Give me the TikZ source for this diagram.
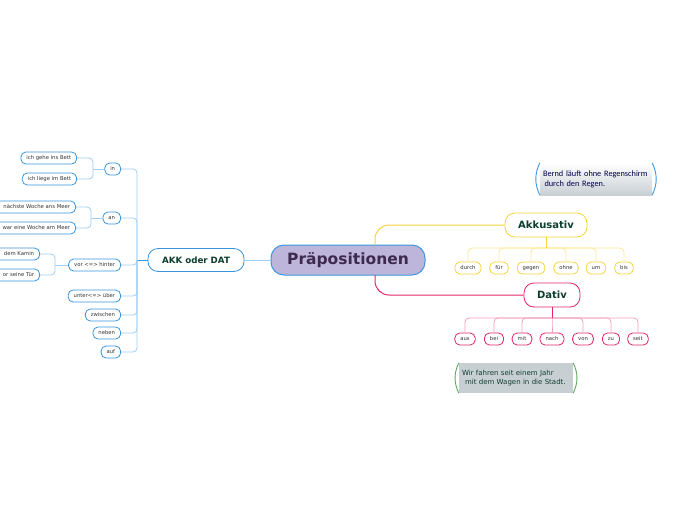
\documentclass[tikz,border=0pt]{standalone}
\usepackage{fontspec}
\setmainfont{DejaVu Sans}
\newfontfamily\notefont{Carlito}
\usetikzlibrary{positioning,calc}
\definecolor{mmblue}{RGB}{58,150,222}
\definecolor{mmbluelight}{RGB}{160,205,240}
\definecolor{mmyellow}{RGB}{247,212,60}
\definecolor{mmyellowlight}{RGB}{252,232,150}
\definecolor{mmpink}{RGB}{226,40,100}
\definecolor{mmpinklight}{RGB}{242,160,190}
\definecolor{mmlilac}{RGB}{190,182,218}
\definecolor{mmplum}{RGB}{62,42,78}
\definecolor{mmgreen}{RGB}{12,62,44}
\definecolor{mmgrey}{RGB}{200,207,211}
\definecolor{mmnotegreen}{RGB}{90,170,90}
\tikzset{
  box/.style={draw, fill=white, line width=.8pt, inner sep=0pt},
  leaf/.style={box, rounded corners=5pt, minimum height=12pt, inner xsep=5.5pt,
    text height=3.9pt, text depth=1.1pt,
    text=black!80, font=\fontsize{5.3}{6}\selectfont},
  cutoff/.style={text width=#1, align=right},
  blueleaf/.style={leaf, draw=mmblue},
  akkleaf/.style={leaf, draw=mmyellow},
  datleaf/.style={leaf, draw=mmpink},
  blueline/.style={draw=mmbluelight, line width=.8pt, rounded corners=4pt},
  yelline/.style={draw=mmyellowlight, line width=.8pt, rounded corners=4pt},
  pinkline/.style={draw=mmpinklight, line width=.8pt, rounded corners=4pt},
  note/.style={inner sep=0pt, align=left, minimum height=30pt},
  notearc/.style={line width=.9pt},
}
\begin{document}
\begin{tikzpicture}[x=1pt,y=-1pt]
  \useasboundingbox (0,0) rectangle (696,520);
  \clip (0,0) rectangle (696,520);

  % root and main branches
  \node[box, draw=mmblue, fill=mmlilac, rounded corners=13pt, line width=1pt,
    minimum width=154pt, minimum height=30pt, text=mmplum,
    font=\fontsize{15.5}{18}\selectfont\bfseries] (praep) at (348,260) {Präpositionen};
  \node[box, draw=mmblue, rounded corners=10pt, minimum width=96pt, minimum height=23pt,
    text=mmgreen, font=\fontsize{8.7}{10}\selectfont\bfseries] (akkdat) at (196,260) {AKK oder DAT};
  \node[box, draw=mmyellow, rounded corners=10pt, minimum width=82pt, minimum height=24pt,
    text=mmgreen, font=\fontsize{10}{12}\selectfont\bfseries] (akku) at (546,225) {Akkusativ};
  \node[box, draw=mmpink, rounded corners=10pt, minimum width=56pt, minimum height=24pt,
    text=mmgreen, font=\fontsize{10}{12}\selectfont\bfseries] (dativ) at (552,295) {Dativ};

  \draw[blueline] (praep.west) -- (akkdat.east);
  \coordinate (akkroot) at (375,245);
  \coordinate (datroot) at (375,275);
  \draw[draw=mmyellow, line width=1pt, rounded corners=14pt] (akkroot) |- (akku.west);
  \draw[draw=mmpink, line width=1pt, rounded corners=14pt] (datroot) |- (dativ.west);

  % AKK oder DAT
  \coordinate (spine) at (137,260);
  \draw[draw=mmblue, line width=.8pt] (akkdat.west) -- (spine);
  \foreach \name/\y/\txt in {in/169/in, an/218/an, vor/265/{vor <=> hinter},
      unter/296/{unter<=> über}, zwischen/315/zwischen, neben/333/neben, auf/352/auf}{
    \node[blueleaf, anchor=east] (\name) at (121,\y) {\txt};
    \draw[blueline] (\name.east) -| (spine);
  }

  \coordinate (in-j) at (93,169);
  \coordinate (an-j) at (91,218);
  \coordinate (vor-j) at (55,265);
  \node[blueleaf, anchor=east] (in-a) at (77,158) {ich gehe ins Bett};
  \node[blueleaf, anchor=east] (in-b) at (77,179) {ich liege im Bett};
  \node[blueleaf, anchor=east, cutoff=80pt] (an-a) at (76,207) {nächste Woche ans Meer};
  \node[blueleaf, anchor=east, cutoff=80pt] (an-b) at (76,228) {war eine Woche am Meer};
  \node[blueleaf, anchor=east, cutoff=50pt] (vor-a) at (40,254) {dem Kamin};
  \node[blueleaf, anchor=east, cutoff=50pt] (vor-b) at (40,275) {or seine Tür};
  \foreach \up in {in,an,vor}{
    \draw[blueline] (\up.west) -- (\up-j);
    \draw[blueline] (\up-a.east) -| (\up-j);
    \draw[blueline] (\up-b.east) -| (\up-j);
  }

  % Akkusativ
  \coordinate (akkbus) at (546,248);
  \foreach \txt/\x [count=\i] in {durch/468, für/499, gegen/531, ohne/566, um/596, bis/624}{
    \node[akkleaf] (akk\i) at (\x,268) {\txt};
    \draw[yelline] (akkbus) -| (akk\i.north);
  }
  \draw[draw=mmyellow, line width=.9pt] (akku.south) -- (akkbus);

  % Dativ
  \coordinate (datbus) at (552,318);
  \foreach \txt/\x [count=\i] in {aus/465, bei/494, mit/522, nach/552, von/583, zu/611, seit/638}{
    \node[datleaf] (dat\i) at (\x,339) {\txt};
    \draw[pinkline] (datbus) -| (dat\i.north);
  }
  \draw[draw=mmpink, line width=.9pt] (dativ.south) -- (datbus);

  % notes
  \node[note, top color=white, bottom color=mmgrey, minimum width=112pt, minimum height=32pt,
    text width=106pt, text=black!70!blue, font=\notefont\fontsize{8.3}{10}\selectfont] (bernd) at (596,179)
    {Bernd läuft ohne Regenschirm\\\hspace{1.5pt}durch den Regen.};
  \draw[notearc, mmblue] (bernd.north west) to[bend right=25] (bernd.south west);
  \draw[notearc, mmblue] (bernd.north east) to[bend left=25] (bernd.south east);

  \node[note, fill=mmgrey, minimum width=114pt, minimum height=30pt, text width=108pt,
    text=mmgreen, font=\fontsize{7}{9}\selectfont] (wagen) at (516,378)
    {Wir fahren seit einem Jahr\\\hspace{3pt}mit dem Wagen in die Stadt.};
  \draw[notearc, mmnotegreen] (wagen.north west) to[bend right=25] (wagen.south west);
  \draw[notearc, mmnotegreen] (wagen.north east) to[bend left=25] (wagen.south east);
\end{tikzpicture}
\end{document}
